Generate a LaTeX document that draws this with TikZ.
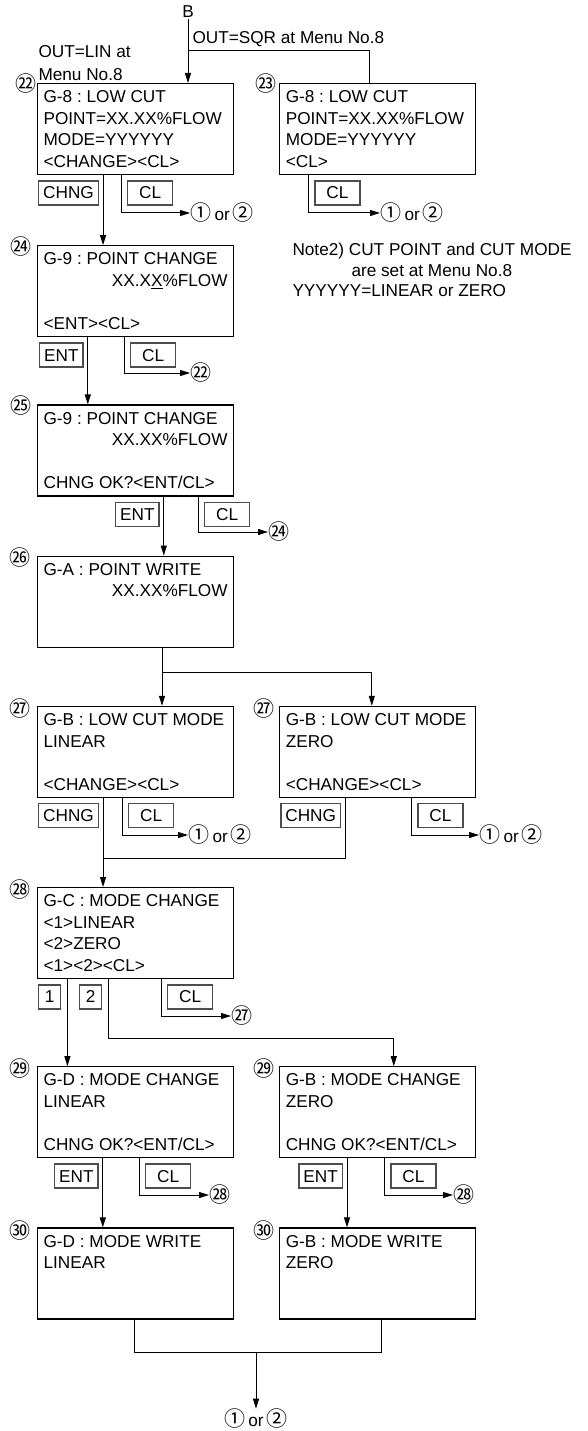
\documentclass[tikz,border=0pt]{standalone}
\usepackage{fontspec}
\setmainfont{Liberation Sans}
\newfontfamily\cjk{Noto Sans CJK JP}
\usepackage{tikz}
\usetikzlibrary{arrows.meta,positioning}
\frenchspacing
\newcommand{\circnum}[1]{{\cjk\fontsize{21}{21}\selectfont #1}}
\newcommand{\oneortwo}{\circnum{①}\hspace{3pt}or\hspace{3pt}\circnum{②}}

\begin{document}
\begin{tikzpicture}[
  x=1pt, y=-1pt, >={Triangle[length=10pt,width=6pt]}, line width=1pt,
  font=\fontsize{17.2}{21.5}\selectfont,
  scr/.style={draw, line width=1.2pt, minimum width=196pt, minimum height=91pt,
              text width=184pt, inner xsep=6pt, inner ysep=0pt, align=flush left},
  key/.style={draw=black!70, line width=1.4pt, minimum width=22pt, minimum height=24pt,
              inner xsep=4.5pt, inner ysep=0pt},
  clkey/.style={key, minimum width=45pt},
  num/.style={font=\cjk\fontsize{21}{21}\selectfont, inner sep=0pt},
  goto/.style={anchor=west, inner sep=0pt}]
\useasboundingbox (0,0) rectangle (587,1431);

\node[inner sep=1pt] (b) at (188,12) {B};
\node[anchor=west, inner sep=0pt] (sqr) at (192,39) {OUT=SQR at Menu No.8};
\node[anchor=north west, inner sep=0pt, align=flush left,
      font=\fontsize{17.2}{23}\selectfont] (lin) at (38,45) {OUT=LIN at\\Menu No.8};
\node[anchor=north west, inner sep=0pt, align=flush left,
      font=\fontsize{17.2}{20.5}\selectfont] (note) at (292,243)
  {Note2) CUT POINT and CUT MODE\\\hspace*{59pt}are set at Menu No.8\\YYYYYY=LINEAR or ZERO};

\node[scr, anchor=north west] (s22) at (37,83)
  {G-8 : LOW CUT\\POINT=XX.XX\%FLOW\\MODE=YYYYYY\\<CHANGE><CL>};
\node[scr, right=45pt of s22] (s23)
  {G-8 : LOW CUT\\POINT=XX.XX\%FLOW\\MODE=YYYYYY\\<CL>};
\node[scr, below=70pt of s22] (s24)
  {G-9 : POINT CHANGE\\\hspace*{\fill}XX.X\underline{X}\%FLOW\\~\\<ENT><CL>};
\node[scr, below=67pt of s24] (s25)
  {G-9 : POINT CHANGE\\\hspace*{\fill}XX.XX\%FLOW\\~\\CHNG OK?<ENT/CL>};
\node[scr, below=59pt of s25] (s26)
  {G-A : POINT WRITE\\\hspace*{\fill}XX.XX\%FLOW\\~\\~};
\node[scr, below=58pt of s26] (s27a)
  {G-B : LOW CUT MODE\\LINEAR\\~\\<CHANGE><CL>};
\node[scr, right=45pt of s27a] (s27b)
  {G-B : LOW CUT MODE\\ZERO\\~\\<CHANGE><CL>};
\node[scr, below=89pt of s27a] (s28)
  {G-C : MODE CHANGE\\<1>LINEAR\\<2>ZERO\\<1><2><CL>};
\node[scr, below=87pt of s28] (s29a)
  {G-D : MODE CHANGE\\LINEAR\\~\\CHNG OK?<ENT/CL>};
\node[scr, right=45pt of s29a] (s29b)
  {G-B : MODE CHANGE\\ZERO\\~\\CHNG OK?<ENT/CL>};
\node[scr, below=69pt of s29a] (s30a)
  {G-D : MODE WRITE\\LINEAR\\~\\~};
\node[scr, right=45pt of s30a] (s30b)
  {G-B : MODE WRITE\\ZERO\\~\\~};

\node[num, left=0pt of s22.north west, yshift=-1pt] (n22) {㉒};
\node[num, left=2pt of s23.north west, yshift=-1pt] (n23) {㉓};
\node[num, left=5pt of s24.north west, yshift=-1pt] (n24) {㉔};
\node[num, left=5pt of s25.north west, yshift=-1pt] (n25) {㉕};
\node[num, left=6pt of s26.north west, yshift=-2pt] (n26) {㉖};
\node[num, left=6pt of s27a.north west, yshift=-3pt] (n27a) {㉗};
\node[num, left=4pt of s27b.north west, yshift=-3pt] (n27b) {㉗};
\node[num, left=6pt of s28.north west, yshift=-3pt] (n28) {㉘};
\node[num, left=6pt of s29a.north west, yshift=-2pt] (n29a) {㉙};
\node[num, left=4pt of s29b.north west, yshift=-2pt] (n29b) {㉙};
\node[num, left=6pt of s30a.north west, yshift=-3pt] (n30a) {㉚};
\node[num, left=4pt of s30b.north west, yshift=-3pt] (n30b) {㉚};

\node[key, below right=5pt and 1pt of s22.south west] (k22c) {CHNG};
\node[clkey, below right=5pt and 90pt of s22.south west] (k22l) {CL};
\node[clkey, below right=5pt and 35pt of s23.south west] (k23l) {CL};
\node[key, below right=5pt and 2pt of s24.south west] (k24e) {ENT};
\node[clkey, below right=5pt and 93pt of s24.south west] (k24l) {CL};
\node[key, below right=5pt and 78pt of s25.south west] (k25e) {ENT};
\node[clkey, below right=5pt and 167pt of s25.south west] (k25l) {CL};
\node[key, below right=5pt and 1pt of s27a.south west] (k27ac) {CHNG};
\node[clkey, below right=5pt and 91pt of s27a.south west] (k27al) {CL};
\node[key, below right=5pt and 1pt of s27b.south west] (k27bc) {CHNG};
\node[clkey, below right=5pt and 138pt of s27b.south west] (k27bl) {CL};
\node[key, below right=5pt and 1pt of s28.south west] (k28a) {1};
\node[key, below right=5pt and 42pt of s28.south west] (k28b) {2};
\node[clkey, below right=5pt and 130pt of s28.south west] (k28l) {CL};
\node[key, below right=5pt and 17pt of s29a.south west] (k29ae) {ENT};
\node[clkey, below right=5pt and 108pt of s29a.south west] (k29al) {CL};
\node[key, below right=5pt and 19pt of s29b.south west] (k29be) {ENT};
\node[clkey, below right=5pt and 111pt of s29b.south west] (k29bl) {CL};

\node[goto] (or22) at (190,213) {\oneortwo};
\node[goto] (or23) at (380,213) {\oneortwo};
\node[num, goto] (bk22) at (190,373) {㉒};
\node[num, goto] (bk24) at (268,532) {㉔};
\node[goto] (or27a) at (188,835) {\oneortwo};
\node[goto] (or27b) at (479,835) {\oneortwo};
\node[num, goto] (bk27) at (231,1016) {㉗};
\node[num, goto] (bk28a) at (209,1195) {㉘};
\node[num, goto] (bk28b) at (453,1195) {㉘};
\node[inner sep=0pt] (or30) at (256,1419) {\oneortwo};

\coordinate (jb) at (b |- 0,51);
\coordinate (j26) at (162,672);
\coordinate (j27) at ([xshift=4pt]k27ac.east |- 0,858);
\coordinate (j28) at ([xshift=16pt]s29b.north |- 0,1038);
\coordinate (j30) at (256,1352);

\draw[->] (b) -- (b |- s22.north);
\draw (jb) -| ([xshift=-8pt]s23.north);
\draw[->] ([xshift=4pt]k22c.east |- s22.south) -- ([xshift=4pt]k22c.east |- s24.north);
\draw[->] ([xshift=-6pt]k22l.west |- s22.south) |- (or22);
\draw[->] ([xshift=-6pt]k23l.west |- s23.south) |- (or23);
\draw[->] ([xshift=4pt]k24e.east |- s24.south) -- ([xshift=4pt]k24e.east |- s25.north);
\draw[->] ([xshift=-6pt]k24l.west |- s24.south) |- (bk22);
\draw[->] ([xshift=4pt]k25e.east |- s25.south) -- ([xshift=4pt]k25e.east |- s26.north);
\draw[->] ([xshift=-6pt]k25l.west |- s25.south) |- (bk24);
\draw[->] (j26 |- s26.south) -- (j26 |- s27a.north);
\draw[->] (j26) -| ([xshift=-6pt]s27b.north);
\draw[->] (j27 |- s27a.south) -- (j27 |- s28.north);
\draw[->] ([xshift=-6pt]k27al.west |- s27a.south) |- (or27a);
\draw ([xshift=4pt]k27bc.east |- s27b.south) |- (j27);
\draw[->] ([xshift=-6pt]k27bl.west |- s27b.south) |- (or27b);
\draw[->] ([xshift=6pt]k28a.east |- s28.south) -- ([xshift=6pt]k28a.east |- s29a.north);
\draw[->] ([xshift=6pt]k28b.east |- s28.south) |- (j28) -- (j28 |- s29b.north);
\draw[->] ([xshift=-6pt]k28l.west |- s28.south) |- (bk27);
\draw[->] ([xshift=4pt]k29ae.east |- s29a.south) -- ([xshift=4pt]k29ae.east |- s30a.north);
\draw[->] ([xshift=-6pt]k29al.west |- s29a.south) |- (bk28a);
\draw[->] ([xshift=4pt]k29be.east |- s29b.south) -- ([xshift=4pt]k29be.east |- s30b.north);
\draw[->] ([xshift=-6pt]k29bl.west |- s29b.south) |- (bk28b);
\draw ([xshift=-1pt]s30a.south) |- (j30) -| ([xshift=4pt]s30b.south);
\draw[->] (j30) -- (or30);
\end{tikzpicture}
\end{document}
